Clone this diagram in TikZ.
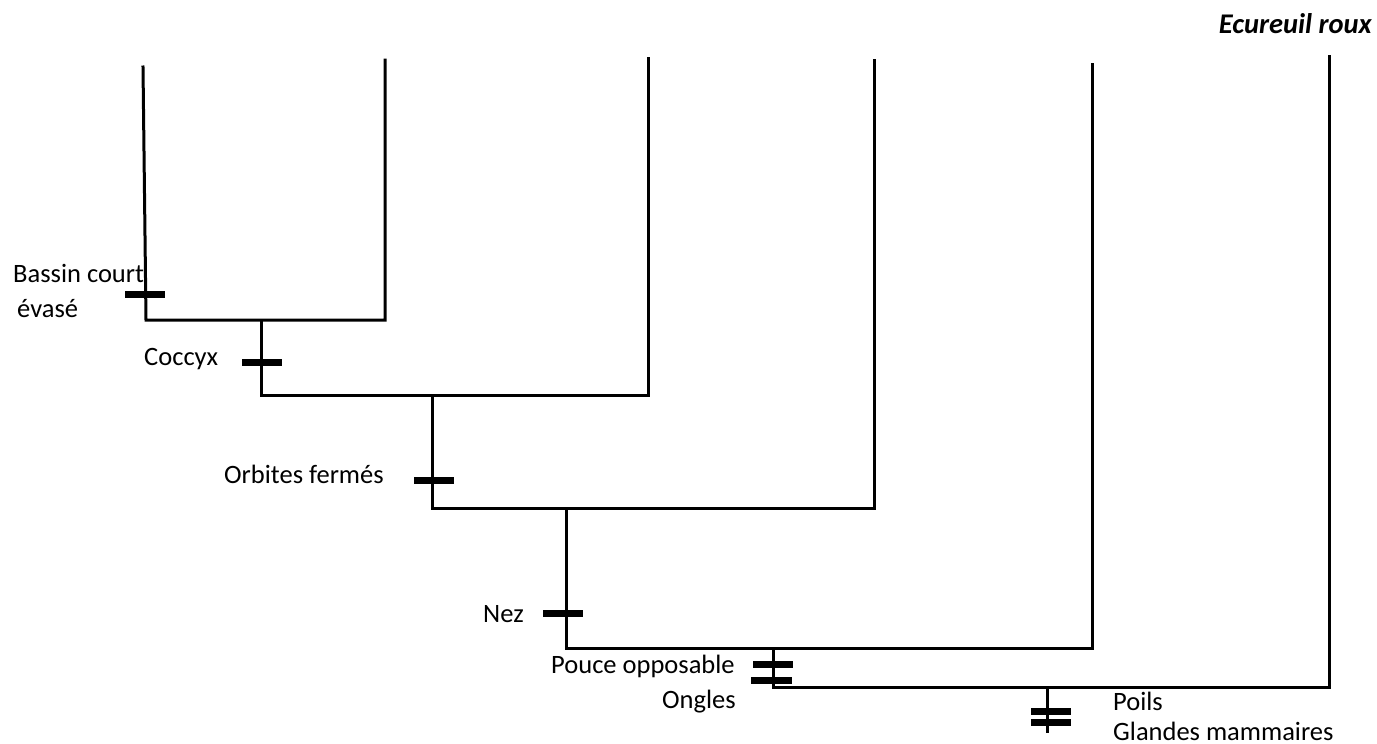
\documentclass[tikz,border=0pt]{standalone}
\usepackage{fontspec}
\setmainfont{Carlito}
\begin{document}
\begin{tikzpicture}[x=1pt,y=-1pt,
  br/.style={line width=3pt, line cap=rect},
  tick/.style={line width=7pt},
  lab/.style={font=\fontsize{26.5}{30}\selectfont, inner sep=0pt, anchor=base west}]
\useasboundingbox[fill=white] (0,0) rectangle (1377,744);
% leaves tops
\coordinate (t1) at (143,67);
\coordinate (t2) at (385,60);
\coordinate (t3) at (648,58);
\coordinate (t4) at (874,60);
\coordinate (t5) at (1092,64);
\coordinate (t6) at (1329,56);
% junctions
\coordinate (b1) at (146,320);
\coordinate (b2) at (385,320);
\coordinate (n1) at (261,320);
\coordinate (n1b) at (261,395);
\coordinate (b3) at (648,395);
\coordinate (n2) at (432,395);
\coordinate (n2b) at (432,508);
\coordinate (b4) at (874,508);
\coordinate (n3) at (566,508);
\coordinate (n3b) at (566,648);
\coordinate (b5) at (1092,648);
\coordinate (n4) at (773,648);
\coordinate (n4b) at (773,687);
\coordinate (b6) at (1329,687);
\coordinate (n5) at (1047,687);
\coordinate (n5b) at (1047,731);
% tree
\draw[br] (t1) -- (b1) -- (b2) -- (t2);
\draw[br] (n1) -- (n1b) -- (b3) -- (t3);
\draw[br] (n2) -- (n2b) -- (b4) -- (t4);
\draw[br] (n3) -- (n3b) -- (b5) -- (t5);
\draw[br] (n4) -- (n4b) -- (b6) -- (t6);
\draw[br] (n5) -- (n5b);
% character ticks
\coordinate (k1) at (145,294);
\coordinate (k2) at (262,362);
\coordinate (k3) at (434,480);
\coordinate (k4) at (563,613);
\coordinate (k5a) at (773,664);
\coordinate (k5b) at (771,680);
\coordinate (k6a) at (1051,711);
\coordinate (k6b) at (1051,722);
\foreach \k in {k1,k2,k3,k4,k5a,k6a,k6b}
  \draw[tick] ([xshift=-20pt]\k) -- ([xshift=20pt]\k);
\draw[tick] ([xshift=-20pt]k5b) -- ([xshift=21pt]k5b);
% labels
\node[lab] (l1) at (13,282) {Bassin court};
\node[lab] (l1b) at (17,317) {évasé};
\node[lab] (l2) at (144,365) {Coccyx};
\node[lab] (l3) at (224,483) {Orbites fermés};
\node[lab] (l4) at (483,622) {Nez};
\node[lab] (l5) at (551,673) {Pouce opposable};
\node[lab] (l5b) at (662,708) {Ongles};
\node[lab] (l6) at (1113,710) {Poils};
\node[lab] (l6b) at (1113,740) {Glandes mammaires};
\node[lab, font=\fontsize{28.5}{32}\selectfont\bfseries\itshape, anchor=base east] (sp) at (1372,34) {Ecureuil roux};
\end{tikzpicture}
\end{document}
